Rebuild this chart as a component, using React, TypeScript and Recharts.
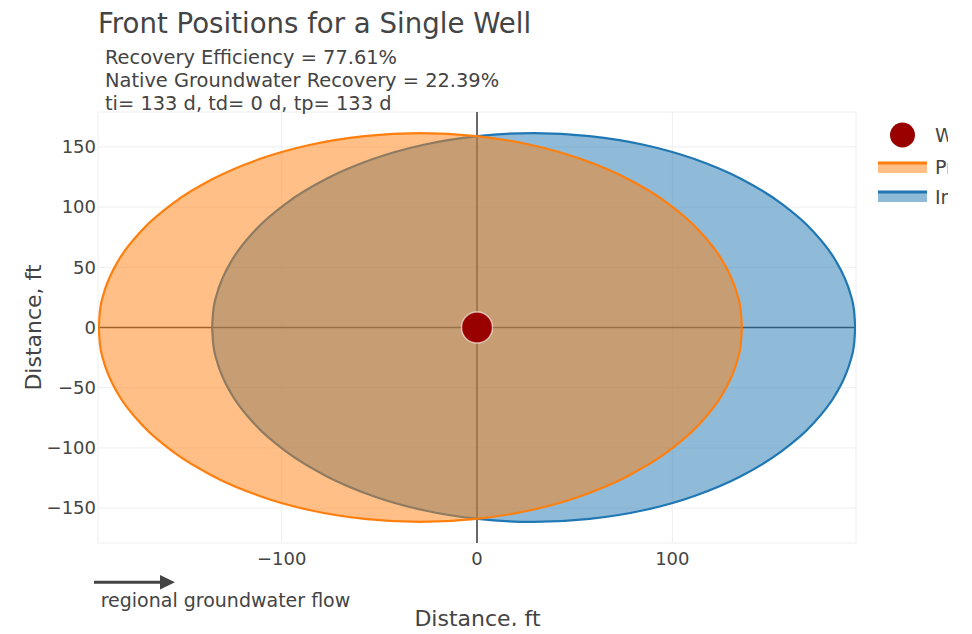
import React from 'react';
import {
  ComposedChart,
  Area,
  Scatter,
  XAxis,
  YAxis,
  CartesianGrid,
  ReferenceLine,
  Customized,
} from 'recharts';

// ---- data (front outlines, upper half; lower half is the mirror) ----
const productionX = [
  -193.6, -193.0, -191.1, -188.0, -183.7, -171.5, -155.1, -134.8, -111.3, -85.3, -57.6, -29.0,
  -0.4, 27.3, 53.3, 76.8, 97.1, 113.5, 125.7, 130.0, 133.1, 135.0, 135.6,
];
const productionHalfWidth = [
  0, 14.1, 28.0, 41.8, 55.2, 80.8, 103.8, 123.7, 139.9, 151.8, 159.0, 161.5,
  159.0, 151.8, 139.9, 123.7, 103.8, 80.8, 55.2, 41.8, 28.0, 14.1, 0,
];
const injectionX = [
  -135.6, -135.0, -133.1, -130.0, -125.7, -113.5, -97.1, -76.8, -53.3, -27.3, 0.4, 29.0,
  57.6, 85.3, 111.3, 134.8, 155.1, 171.5, 183.7, 188.0, 191.1, 193.0, 193.6,
];
const injectionHalfWidth = [
  0, 14.1, 28.0, 41.8, 55.2, 80.8, 103.8, 123.7, 139.9, 151.8, 159.0, 161.5,
  159.0, 151.8, 139.9, 123.7, 103.8, 80.8, 55.2, 41.8, 28.0, 14.1, 0,
];
const wellX = [0];
const wellY = [0];

const xTicks = [-100, 0, 100];
const yTicks = [-150, -100, -50, 0, 50, 100, 150];

const titleText = 'Front Positions for a Single Well';
const annotationLines = [
  'Recovery Efficiency = 77.61%',
  'Native Groundwater Recovery = 22.39%',
  'ti= 133 d, td= 0 d, tp= 133 d',
];
const flowLabel = 'regional groundwater flow';
const axisTitle = 'Distance, ft';
const legendNames = ['Well', 'Production Front', 'Injection Front'];

// ---- tables built from the arrays ----
const injectionData = injectionX.map((x, i) => ({ x, y: [-injectionHalfWidth[i], injectionHalfWidth[i]] }));
const productionData = productionX.map((x, i) => ({ x, y: [-productionHalfWidth[i], productionHalfWidth[i]] }));
const wellData = wellX.map((x, i) => ({ x, y: wellY[i] }));

const FONT = 'DejaVu Sans';
const TXT = '#444';
const ORANGE = '#ff7f0e';
const BLUE = '#1f77b4';
const WELL = '#990000';

const fmt = (v: number) => (v < 0 ? '\u2212' + Math.abs(v) : String(v));

const WellShape = (props: any) => {
  const { cx, cy } = props;
  if (cx == null || cy == null) return null;
  return <circle cx={cx} cy={cy} r={15.5} fill={WELL} stroke="#ffffff" strokeOpacity={0.6} strokeWidth={1.5} />;
};

const Decorations = () => (
  <g fontFamily={FONT} fill={TXT}>
    <text x={90} y={25} fontSize={27.6} fill={TXT}>{titleText}</text>
    {annotationLines.map((t, i) => (
      <text key={i} x={97} y={56 + i * 23} fontSize={19.4} fill={TXT}>{t}</text>
    ))}
    <line x1={86} y1={574.3} x2={153} y2={574.3} stroke={TXT} strokeWidth={3} />
    <polygon points="152,567 167,574.3 152,581.6" fill={TXT} />
    <text x={92.7} y={598.7} fontSize={19} fill={TXT}>{flowLabel}</text>
    <text x={469.5} y={618} fontSize={22} textAnchor="middle" fill={TXT}>{axisTitle}</text>
    <text
      x={0}
      y={0}
      fontSize={22}
      textAnchor="middle"
      fill={TXT}
      transform="translate(32.5,319.5) rotate(-90)"
    >
      {axisTitle}
    </text>
    {/* legend */}
    <circle cx={894.5} cy={127} r={12.5} fill={WELL} />
    <text x={927} y={134} fontSize={19} fill={TXT}>{legendNames[0]}</text>
    <rect x={870} y={154} width={49} height={11} fill={ORANGE} fillOpacity={0.5} />
    <line x1={870} y1={155} x2={919} y2={155} stroke={ORANGE} strokeWidth={3} />
    <text x={927} y={166} fontSize={19} fill={TXT}>{legendNames[1]}</text>
    <rect x={870} y={183} width={49} height={11} fill={BLUE} fillOpacity={0.5} />
    <line x1={870} y1={184} x2={919} y2={184} stroke={BLUE} strokeWidth={3} />
    <text x={927} y={196} fontSize={19} fill={TXT}>{legendNames[2]}</text>
  </g>
);

export default function App() {
  return (
    <div style={{ width: 964, height: 618 }}>
      <ComposedChart
        width={940}
        height={626}
        margin={{ top: 104, right: 92, bottom: 51, left: 0 }}
        style={{ fontFamily: FONT }}
      >
        <CartesianGrid stroke="#eeeeee" strokeWidth={1} />
        <XAxis
          dataKey="x"
          type="number"
          domain={[-194, 194]}
          ticks={xTicks}
          tickFormatter={fmt}
          allowDataOverflow
          axisLine={false}
          tickLine={false}
          tickSize={0}
          tickMargin={9}
          height={40}
          tick={{ fontSize: 18, fill: TXT, fontFamily: FONT }}
        />
        <YAxis
          type="number"
          domain={[-179, 179]}
          ticks={yTicks}
          tickFormatter={fmt}
          allowDataOverflow
          axisLine={false}
          tickLine={false}
          tickSize={0}
          tickMargin={2}
          width={90}
          tick={{ fontSize: 18, fill: TXT, fontFamily: FONT }}
        />
        <ReferenceLine x={0} stroke={TXT} strokeWidth={1.6} zIndex={50} />
        <ReferenceLine y={0} stroke={TXT} strokeWidth={1.6} zIndex={50} />
        <Area
          data={injectionData}
          dataKey="y"
          type="monotone"
          stroke={BLUE}
          strokeWidth={2.2}
          fill={BLUE}
          fillOpacity={0.5}
          isAnimationActive={false}
          dot={false}
          activeDot={false}
        />
        <Area
          data={productionData}
          dataKey="y"
          type="monotone"
          stroke={ORANGE}
          strokeWidth={2.2}
          fill={ORANGE}
          fillOpacity={0.5}
          isAnimationActive={false}
          dot={false}
          activeDot={false}
        />
        <Scatter data={wellData} dataKey="y" shape={WellShape} isAnimationActive={false} />
        <Customized component={Decorations} />
      </ComposedChart>
    </div>
  );
}
